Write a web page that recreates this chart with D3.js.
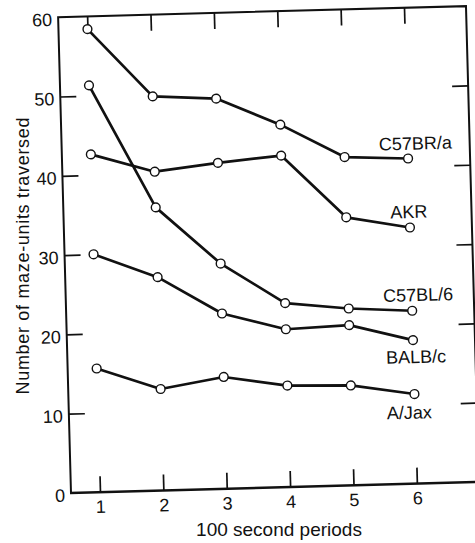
<!DOCTYPE html>
<html>
<head>
<meta charset="utf-8">
<script src="https://cdn.jsdelivr.net/npm/d3@7"></script>
<style>
  body { margin: 0; background: #fff; }
  svg { display: block; }
  text { font-family: "Liberation Sans", Arial, Helvetica, sans-serif; fill: #111; }
</style>
</head>
<body>
<svg id="chart" width="475" height="543"></svg>
<script>
// Maze activity per 100-second period, by mouse strain
const periods = [1, 2, 3, 4, 5, 6];
const strainNames = ["C57BR/a", "AKR", "C57BL/6", "BALB/c", "A/Jax"];
const c57braValues = [58.4, 49.7, 49.2, 45.7, 41.4, 41.0];
const akrValues    = [42.6, 40.2, 41.1, 41.8, 33.8, 32.3];
const c57bl6Values = [51.3, 35.7, 28.4, 23.2, 22.3, 21.8];
const balbcValues  = [30.0, 26.9, 22.1, 19.9, 20.2, 18.1];
const ajaxValues   = [15.6, 12.8, 14.1, 12.8, 12.6, 11.3];
const yTickValues = [0, 10, 20, 30, 40, 50, 60];
const xTickValues = [1, 2, 3, 4, 5, 6];
const xTitle = "100 second periods";
const yTitle = "Number of maze-units traversed";

const seriesValues = [c57braValues, akrValues, c57bl6Values, balbcValues, ajaxValues];
const series = strainNames.map((name, i) => ({
  name,
  points: periods.map((p, j) => ({ p, v: seriesValues[i][j] }))
}));

// Where each strain's name sits, in period / value units
const labelAnchor = {
  "C57BR/a": [6.12, 42.1],
  "AKR":     [5.99, 33.5],
  "C57BL/6": [6.10, 23.0],
  "BALB/c":  [6.04, 15.2],
  "A/Jax":   [5.91, 8.2]
};

const svg = d3.select("#chart");
const frame = { left: 71, right: 479, top: 17, bottom: 493 };
const tilt = -1.55; // the plate sits slightly askew

const x = d3.scaleLinear().domain([1, 6]).range([100, 417]);
const y = d3.scaleLinear().domain([0, 60]).range([frame.bottom, frame.top]);

const plot = svg.append("g")
  .attr("transform", `rotate(${tilt},${frame.left},${frame.bottom})`);

const font = "Liberation Sans, Arial, Helvetica, sans-serif";

function styleAxis(g, fontSize) {
  g.attr("font-family", font).attr("font-size", fontSize);
  g.select(".domain").remove();
  g.selectAll(".tick line").attr("stroke", "#111").attr("stroke-width", 1.7);
  g.selectAll(".tick text").attr("fill", "#111");
}

// left axis with labels
plot.append("g")
  .attr("transform", `translate(${frame.left},0)`)
  .call(d3.axisLeft(y).tickValues(yTickValues).tickSize(-16).tickPadding(6).tickFormat(d3.format("d")))
  .call(g => styleAxis(g, 18))
  .call(g => g.selectAll(".tick text").attr("dy", "0.45em"))
  .call(g => g.selectAll(".tick").filter(d => d === 0 || d === 60).select("line").remove());

// right axis, ticks only
plot.append("g")
  .attr("transform", `translate(${frame.right},0)`)
  .call(d3.axisRight(y).tickValues(yTickValues.filter(d => d > 0 && d < 60)).tickSize(-16).tickFormat(""))
  .call(g => styleAxis(g, 18));

// bottom axis with labels
plot.append("g")
  .attr("transform", `translate(0,${frame.bottom})`)
  .call(d3.axisBottom(x).tickValues(xTickValues).tickSize(-16).tickPadding(8).tickFormat(d3.format("d")))
  .call(g => styleAxis(g, 18));

// top axis, ticks only
plot.append("g")
  .attr("transform", `translate(0,${frame.top})`)
  .call(d3.axisTop(x).tickValues(xTickValues).tickSize(-16).tickFormat(""))
  .call(g => styleAxis(g, 18));

// frame
plot.append("path")
  .attr("d", `M${frame.left},${frame.bottom}V${frame.top}H${frame.right}V${frame.bottom}`)
  .attr("fill", "none").attr("stroke", "#111").attr("stroke-width", 2);
plot.append("line")
  .attr("x1", frame.left - 1).attr("x2", frame.right)
  .attr("y1", frame.bottom).attr("y2", frame.bottom)
  .attr("stroke", "#111").attr("stroke-width", 2.6);

// strain lines
const line = d3.line().x(d => x(d.p)).y(d => y(d.v));
const strainG = plot.selectAll("g.strain").data(series).join("g").attr("class", "strain");

strainG.append("path")
  .attr("d", d => line(d.points))
  .attr("fill", "none")
  .attr("stroke", "#111")
  .attr("stroke-width", 2.7)
  .attr("stroke-linejoin", "round");

strainG.selectAll("circle").data(d => d.points).join("circle")
  .attr("cx", d => x(d.p))
  .attr("cy", d => y(d.v))
  .attr("r", 4.4)
  .attr("fill", "#fff")
  .attr("stroke", "#111")
  .attr("stroke-width", 1.4);

strainG.append("text")
  .attr("x", d => x(labelAnchor[d.name][0]))
  .attr("y", d => y(labelAnchor[d.name][1]))
  .attr("text-anchor", "middle")
  .attr("font-size", 18)
  .text(d => d.name);

// axis titles
svg.append("text")
  .attr("x", 279).attr("y", 536)
  .attr("text-anchor", "middle")
  .attr("font-size", 19)
  .text(xTitle);

svg.append("text")
  .attr("transform", "translate(29,256) rotate(-90)")
  .attr("text-anchor", "middle")
  .attr("font-size", 18)
  .attr("textLength", 277)
  .attr("lengthAdjust", "spacing")
  .text(yTitle);
</script>
</body>
</html>
